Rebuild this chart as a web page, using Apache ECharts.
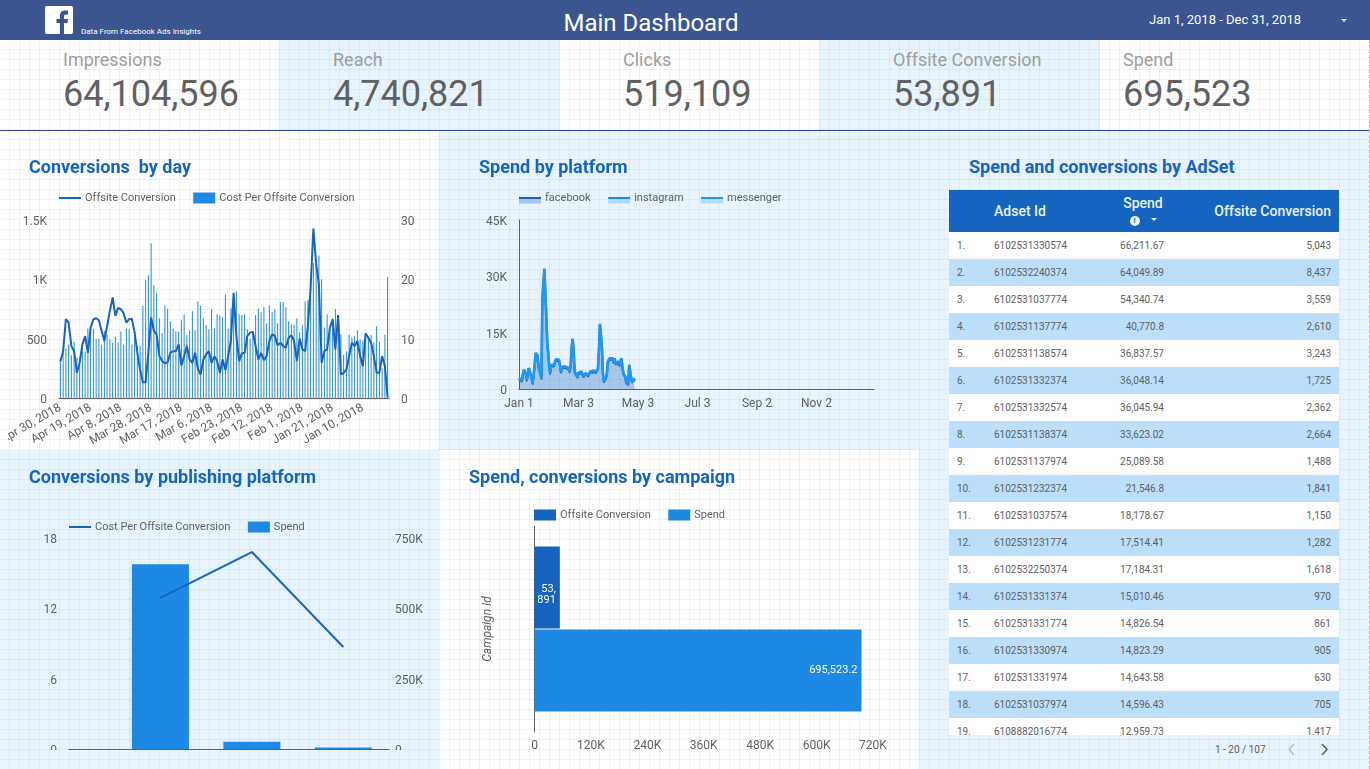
<!DOCTYPE html>
<html>
<head>
<meta charset="utf-8">
<title>Main Dashboard</title>
<script src="https://cdn.jsdelivr.net/npm/echarts@6/dist/echarts.min.js"></script>
<style>
	html, body { margin: 0; padding: 0; width: 1370px; height: 769px; overflow: hidden; background: #fff; font-family: Roboto, sans-serif; }
	.abs, .panel, .chart, .kpi, #table-wrap { position: absolute; }
	.panel { background: #e8f4fd; }
	#paper {
		position: absolute; left: 0; top: 0; width: 1370px; height: 769px;
		background-image:
			linear-gradient(to right, transparent 9px, rgba(70, 80, 90, .07) 9px, rgba(70, 80, 90, .07) 10px, transparent 10px),
			linear-gradient(to bottom, transparent 9px, rgba(70, 80, 90, .07) 9px, rgba(70, 80, 90, .07) 10px, transparent 10px);
		background-size: 10px 10px;
	}
	#header { position: absolute; left: 0; top: 0; width: 1370px; height: 40px; background: #3a5590; color: #fff; }
	#header div { position: absolute; white-space: nowrap; }
	#rule { position: absolute; left: 0; top: 130px; width: 1370px; height: 1px; background: #2f49a8; }
	#edge { position: absolute; left: 1369px; top: 40px; height: 729px; border-left: 1px dashed #b5b5b5; }
	.kpi { top: 48px; white-space: nowrap; }
	.kpi .name { font-size: 18px; line-height: 24px; color: #9e9e9e; }
	.kpi .value { font-size: 36px; line-height: 44px; color: #616161; margin-top: 0; }
	#table-wrap { left: 949px; top: 190px; width: 390px; height: 545px; overflow: hidden; }
	table { border-collapse: collapse; width: 390px; table-layout: fixed; }
	th { height: 42px; padding: 0; background: #1565c0; color: #e8f4fd; font-size: 14px; font-weight: 500; }
	td { height: 27px; padding: 0; font-size: 10px; color: #616161; background: #fff; }
	tr:nth-child(odd) td { background: #bbdefb; }
	.num { padding-left: 8px; width: 37px; text-align: left; }
	.id { width: 112px; text-align: left; }
	.sp { width: 58px; text-align: right; }
	.oc { text-align: right; padding-right: 8px; }
	.spend-head { position: relative; left: 8px; text-align: center; line-height: 15px; }
	.info { display: inline-block; width: 10px; height: 10px; line-height: 10px; border-radius: 50%; background: #e8f4fd; color: #1565c0; font-size: 8px; font-weight: 700; text-align: center; }
	.caret { display: inline-block; width: 0; height: 0; border-left: 3px solid transparent; border-right: 3px solid transparent; border-top: 3px solid #e8f4fd; margin-left: 11px; vertical-align: 2px; }
</style>
</head>
<body>
<div class="panel" style="left:279px;top:40px;width:281px;height:90px"></div>
<div class="panel" style="left:819px;top:40px;width:281px;height:90px"></div>
<div class="panel" style="left:439px;top:131px;width:480px;height:319px"></div>
<div class="panel" style="left:919px;top:131px;width:451px;height:638px"></div>
<div class="panel" style="left:0;top:450px;width:439px;height:319px"></div>
<div id="paper"></div>
<div id="header">
	<svg class="abs" style="left:45px;top:6px" width="28" height="28" viewBox="0 0 28 28">
		<rect width="28" height="28" rx="2" fill="#fff"/>
		<path d="M19 28V17h3.4l.6-4h-4v-2.6c0-1.2.5-1.9 2-1.9h2.100V4.700C22.500 4.600 21.300 4.500 20 4.500c-3.100 0-5.100 1.900-5.100 5.300V13H11.500v4h3.400v11z" fill="#3a5590"/>
	</svg>
	<div style="left:81px;top:26px;font-size:8px;line-height:11px">Data From Facebook Ads Insights</div>
	<div style="left:351px;width:600px;top:8px;text-align:center;font-size:24px;line-height:30px">Main Dashboard</div>
	<div style="left:1149px;top:12px;font-size:13px;line-height:16px">Jan 1, 2018 - Dec 31, 2018</div>
	<div style="left:1341px;top:19px;width:0;height:0;border-left:3px solid transparent;border-right:3px solid transparent;border-top:3px solid #fff"></div>
</div>
<div id="kpis"></div>
<div id="rule"></div>
<div id="edge"></div>

<div class="chart" id="day" style="left:8px;top:130px;width:431px;height:320px"></div>
<div class="chart" id="platform" style="left:439px;top:130px;width:480px;height:320px"></div>
<div class="chart" id="publishing" style="left:0;top:450px;width:439px;height:300px"></div>
<div class="chart" id="campaign" style="left:439px;top:450px;width:480px;height:319px"></div>

<div class="chart" id="adset-title" style="left:969px;top:156px;font-size:18px;line-height:22px;font-weight:700;color:#1565c0;white-space:nowrap">Spend and conversions by AdSet</div>
<div id="table-wrap"></div>
<div class="abs" style="left:1215px;top:743px;font-size:10px;line-height:13px;color:#616161">1 - 20 / 107</div>
<svg class="abs" style="left:1287px;top:743px" width="8" height="13" viewBox="0 0 8 13"><path d="M7 1 2 6.500 7 12" fill="none" stroke="#bdbdbd" stroke-width="1.600"/></svg>
<svg class="abs" style="left:1321px;top:743px" width="8" height="13" viewBox="0 0 8 13"><path d="M1 1 6 6.500 1 12" fill="none" stroke="#616161" stroke-width="1.600"/></svg>

<script>
var FONT = 'Roboto', TXT = '#616161', AXIS = '#616161';
var DARK = '#1565c0', BLUE = '#1e88e5', SKY = '#2196f3';

var kpiNames = ['Impressions', 'Reach', 'Clicks', 'Offsite Conversion', 'Spend'];
var kpiValues = ['64,104,596', '4,740,821', '519,109', '53,891', '695,523'];
var kpiLeft = [63, 333, 623, 893, 1123];

// conversions by day, newest day first (Apr 30 -> Jan 1)
var dayConversions = [310, 395, 664, 635, 438, 395, 212, 297, 452, 522, 381, 593, 664, 672, 655, 565, 480, 607, 734, 847,
	692, 760, 748, 715, 635, 664, 667, 551, 381, 240, 133, 133, 381, 678, 565, 537, 353, 311, 291, 302,
	381, 395, 395, 452, 274, 353, 438, 325, 297, 381, 246, 198, 325, 367, 395, 297, 353, 311, 212, 325,
	235, 353, 480, 884, 523, 311, 376, 381, 523, 551, 557, 438, 325, 381, 319, 353, 480, 537, 523, 444,
	466, 438, 424, 508, 528, 480, 311, 500, 410, 395, 607, 932, 1427, 1130, 960, 297, 395, 410, 593, 664,
	410, 698, 198, 212, 240, 353, 466, 438, 480, 353, 268, 545, 508, 466, 353, 212, 212, 353, 268, 5];
var dayCost = [6.5, 7.6, 8.3, 9, 7.2, 9.5, 6.8, 5.9, 8.8, 7.9, 11.7, 12, 11.6, 10, 10, 9, 11.3, 10.7, 9.9, 9.3,
	10.3, 9.4, 11.2, 9, 11.7, 11.6, 9, 11.3, 8.8, 8.8, 15.5, 19.9, 20.7, 26.1, 19, 17.7, 13.4, 10.9, 15.6, 15.1,
	12.9, 11.7, 11.3, 11.2, 13.1, 14.1, 10.6, 11.4, 14.6, 11.4, 16.3, 15.5, 13.4, 12.3, 11.6, 15, 11.8, 14.1, 13.9, 13.6,
	17.5, 11.7, 15.1, 17.8, 18, 14.1, 14, 14.1, 11.6, 10, 11.3, 14, 15.1, 14.5, 15.3, 12.6, 15.6, 14.5, 15, 12.6,
	16.2, 16.2, 15.3, 12.9, 12.4, 12.4, 13.4, 11.1, 12.3, 16.3, 16.5, 18.5, 22.8, 22.8, 24, 20, 11.9, 14.1, 11.6, 13.4,
	15, 14, 10.7, 7.3, 7.9, 10.7, 10.2, 10.4, 11.4, 9.9, 9.7, 10.9, 10.2, 10.6, 9.4, 12.1, 9.5, 5, 10.6, 20.4];

// spend by platform, Jan 1 onwards
var spendFacebook = [2480, 2230, 2050, 1880, 3380, 4700, 4880, 3820, 2050, 3380, 5150, 5150, 5150, 2490, 1160, 1160, 5590, 9130, 8960, 8430,
	5590, 5590, 5150, 2490, 23200, 23500, 30900, 30900, 18500, 11600, 9000, 5500, 3800, 5950, 5950, 6200, 5950, 6830, 7450, 7720,
	7450, 7270, 5950, 4200, 4800, 5500, 5320, 5320, 5500, 5060, 5320, 5060, 4200, 5950, 10400, 12800, 9950, 4200, 3900, 3750,
	2870, 3900, 3750, 4200, 4200, 3900, 3030, 2870, 3750, 4000, 3750, 3300, 3750, 4200, 4380, 3750, 4470, 4470, 4200, 4200,
	4200, 5060, 9950, 16700, 16900, 10700, 3750, 1600, 1160, 1600, 3300, 6800, 7270, 7700, 7270, 7700, 7700, 6800, 7700, 6400,
	5950, 5950, 6830, 5950, 6400, 7700, 5500, 3750, 3750, 2870, 1160, 2870, 800, 6000, 5500, 2500, 1600, 2400, 2900, 2000];
var spendInstagram = [420, 410, 400, 390, 410, 420, 420, 410, 390, 410, 420, 430, 420, 400, 390, 380, 430, 440, 420, 410,
	420, 410, 410, 390, 900, 920, 1100, 1050, 700, 500, 430, 420, 400, 430, 440, 420, 430, 450, 450, 460,
	450, 440, 430, 400, 410, 420, 430, 420, 430, 420, 410, 420, 400, 430, 520, 560, 500, 400, 390, 400,
	380, 400, 390, 410, 400, 400, 390, 380, 400, 400, 390, 400, 400, 410, 410, 400, 420, 410, 400, 410,
	400, 420, 500, 620, 610, 520, 390, 350, 340, 360, 400, 450, 460, 470, 460, 470, 460, 450, 470, 440,
	430, 430, 450, 430, 440, 470, 420, 390, 400, 370, 340, 380, 320, 430, 420, 370, 350, 360, 380, 340];
var spendMessenger = [10, 10, 12, 10, 11, 12, 10, 9, 8, 10, 12, 11, 13, 9, 8, 8, 12, 14, 13, 12,
	11, 12, 10, 9, 20, 22, 25, 24, 16, 13, 11, 10, 9, 11, 12, 11, 12, 13, 14, 13,
	12, 12, 11, 10, 10, 11, 11, 10, 11, 10, 11, 10, 9, 11, 13, 15, 12, 10, 9, 9,
	8, 10, 9, 10, 9, 10, 9, 8, 9, 10, 9, 9, 10, 10, 11, 9, 11, 10, 10, 9,
	10, 11, 13, 17, 16, 13, 9, 7, 6, 7, 9, 12, 12, 13, 12, 13, 12, 11, 13, 11,
	10, 11, 12, 10, 11, 13, 10, 9, 9, 8, 6, 8, 5, 11, 10, 8, 7, 8, 8, 7];

// bars sit on the positions 0, 1, 2; the axis runs a little past them
var publishingPos = [0, 1, 2];
var publishingSpend = [657000, 26000, 5000];
var publishingCost = [12.9, 16.8, 8.7];

var campaignIds = ['6102531'];
var campaignConversion = [53891];
var campaignSpend = [695523.2];

var adsetRows = [
	['6102531330574', '66,211.67', '5,043'], ['6102532240374', '64,049.89', '8,437'],
	['6102531037774', '54,340.74', '3,559'], ['6102531137774', '40,770.8', '2,610'],
	['6102531138574', '36,837.57', '3,243'], ['6102531332374', '36,048.14', '1,725'],
	['6102531332574', '36,045.94', '2,362'], ['6102531138374', '33,623.02', '2,664'],
	['6102531137974', '25,089.58', '1,488'], ['6102531232374', '21,546.8', '1,841'],
	['6102531037574', '18,178.67', '1,150'], ['6102531231774', '17,514.41', '1,282'],
	['6102532250374', '17,184.31', '1,618'], ['6102531331374', '15,010.46', '970'],
	['6102531331774', '14,826.54', '861'], ['6102531330974', '14,823.29', '905'],
	['6102531331974', '14,643.58', '630'], ['6102531037974', '14,596.43', '705'],
	['6108882016774', '12,959.73', '1,417']
];

var MONTHS = ['Jan', 'Feb', 'Mar', 'Apr', 'May', 'Jun', 'Jul', 'Aug', 'Sep', 'Oct', 'Nov', 'Dec'];
var dayLabels = [], yearLabels = [];
for (var i = 0; i < 120; i++) {
	var d = new Date(2018, 3, 30 - i);
	dayLabels.push(MONTHS[d.getMonth()] + ' ' + d.getDate() + ', 2018');
}
for (var j = 0; j < 365; j++) {
	var e = new Date(2018, 0, 1 + j);
	yearLabels.push(MONTHS[e.getMonth()] + ' ' + e.getDate());
}

function kFormat(v) {
	return v >= 1000 ? (v / 1000) + 'K' : '' + v;
}
function titleOf(text, left, top) {
	return { text: text, left: left, top: top, padding: 0, textStyle: { fontFamily: FONT, fontSize: 18, fontWeight: 700, color: DARK } };
}
function legendOf(left, top, gap, data) {
	return {
		left: left, top: top, padding: 0, itemWidth: 22, itemHeight: 11, itemGap: gap, data: data,
		textStyle: { fontFamily: FONT, fontSize: 11, color: TXT, padding: [0, 0, 0, -1] }
	};
}
function hardStops(stops) {
	return { type: 'linear', x: 0, y: 0, x2: 0, y2: 1, colorStops: stops };
}
// legend swatches: thin line, or line with the area's pale fill under it
function lineKey(name, color) {
	return {
		name: name, icon: 'rect', itemStyle: {
			color: hardStops([
				{ offset: 0, color: 'transparent' }, { offset: 0.41, color: 'transparent' },
				{ offset: 0.41, color: color }, { offset: 0.59, color: color },
				{ offset: 0.59, color: 'transparent' }, { offset: 1, color: 'transparent' }
			])
		}
	};
}
function areaKey(name, color, pale) {
	return {
		name: name, icon: 'rect', itemStyle: {
			color: hardStops([
				{ offset: 0, color: 'transparent' }, { offset: 0.41, color: 'transparent' },
				{ offset: 0.41, color: color }, { offset: 0.6, color: color },
				{ offset: 0.6, color: pale }, { offset: 1, color: pale }
			])
		}
	};
}
function rectKey(name) {
	return { name: name, icon: 'rect' };
}
function labelOf(margin) {
	return { fontFamily: FONT, fontSize: 12, color: TXT, margin: margin };
}
// the reference's value labels sit a touch below their tick
function yLabelOf(margin) {
	return Object.assign(labelOf(margin), { verticalAlign: 'top', lineHeight: 4 });
}
var axisStroke = { show: true, lineStyle: { color: AXIS, width: 1 } };

var kpiHtml = '';
kpiNames.forEach(function (name, n) {
	kpiHtml += '<div class="kpi" style="left:' + kpiLeft[n] + 'px"><div class="name">' + name + '</div><div class="value">' + kpiValues[n] + '</div></div>';
});
document.getElementById('kpis').innerHTML = kpiHtml;

var html = '<table><tr><th class="num"></th><th class="id">Adset Id</th>' +
	'<th class="sp"><div class="spend-head">Spend<br><span class="info">!</span><span class="caret"></span></div></th>' +
	'<th class="oc">Offsite Conversion</th></tr>';
adsetRows.forEach(function (r, n) {
	html += '<tr><td class="num">' + (n + 1) + '.</td><td class="id">' + r[0] + '</td><td class="sp">' + r[1] + '</td><td class="oc">' + r[2] + '</td></tr>';
});
document.getElementById('table-wrap').innerHTML = html + '</table>';

var dayChart = echarts.init(document.getElementById('day'));
dayChart.setOption({
	animation: false,
	title: titleOf('Conversions  by day', 21, 29),
	legend: legendOf(51, 62.500, 17.500, [lineKey('Offsite Conversion', DARK), rectKey('Cost Per Offsite Conversion')]),
	grid: { left: 51, right: 50, top: 90, bottom: 52, outerBoundsMode: 'none' },
	xAxis: {
		type: 'category', data: dayLabels,
		axisLine: axisStroke, axisTick: { show: false },
		axisLabel: Object.assign(labelOf(9), { rotate: 30, interval: 10 })
	},
	yAxis: [
		{ type: 'value', min: 0, max: 1500, interval: 500, splitLine: { show: false }, axisLabel: Object.assign(yLabelOf(12), { formatter: kFormat }) },
		{ type: 'value', min: 0, max: 30, interval: 10, splitLine: { show: false }, axisLabel: yLabelOf(12) }
	],
	series: [
		{ name: 'Offsite Conversion', type: 'line', data: dayConversions, symbol: 'none', z: 3, lineStyle: { color: DARK, width: 2 }, itemStyle: { color: DARK } },
		{ name: 'Cost Per Offsite Conversion', type: 'bar', yAxisIndex: 1, data: dayCost, barWidth: 1, itemStyle: { color: BLUE } }
	]
});

function areaSeries(name, values, color, width) {
	return {
		name: name, type: 'line', stack: 'spend', data: values, symbol: 'none',
		lineStyle: { color: color, width: width }, itemStyle: { color: color },
		areaStyle: { color: color, opacity: 0.3 }
	};
}
var platformChart = echarts.init(document.getElementById('platform'));
platformChart.setOption({
	animation: false,
	title: titleOf('Spend by platform', 40, 29),
	legend: legendOf(80, 62.500, 17.500, [areaKey('facebook', DARK, '#a9c6e9'), areaKey('instagram', BLUE, '#b1d8f8'), areaKey('messenger', SKY, '#b5dcfb')]),
	grid: { left: 80, right: 45, top: 90, bottom: 61, outerBoundsMode: 'none' },
	xAxis: {
		type: 'category', data: yearLabels, boundaryGap: false,
		axisLine: axisStroke, axisTick: { show: false },
		axisLabel: Object.assign(labelOf(9), { interval: 60 })
	},
	yAxis: {
		type: 'value', min: 0, max: 45000, interval: 15000, splitLine: { show: false },
		axisLine: axisStroke, axisTick: { show: false },
		axisLabel: Object.assign(yLabelOf(12), { formatter: kFormat })
	},
	series: [
		areaSeries('facebook', spendFacebook, DARK, 1.5),
		areaSeries('instagram', spendInstagram, BLUE, 2.5),
		areaSeries('messenger', spendMessenger, SKY, 2.5)
	]
});

var publishingChart = echarts.init(document.getElementById('publishing'));
publishingChart.setOption({
	animation: false,
	title: titleOf('Conversions by publishing platform', 29, 19),
	legend: legendOf(69, 71.500, 17.500, [lineKey('Cost Per Offsite Conversion', DARK), rectKey('Spend')]),
	grid: { left: 69, right: 50, top: 88, bottom: 1, outerBoundsMode: 'none' },
	xAxis: {
		type: 'value', min: -1, max: 2.5, splitLine: { show: false },
		axisLine: axisStroke, axisTick: { show: false }, axisLabel: { show: false }
	},
	yAxis: [
		{ type: 'value', min: 0, max: 18, interval: 6, splitLine: { show: false }, axisLine: { show: false }, axisTick: { show: false }, axisLabel: yLabelOf(12) },
		{ type: 'value', min: 0, max: 750000, interval: 250000, splitLine: { show: false }, axisLine: { show: false }, axisTick: { show: false }, axisLabel: Object.assign(yLabelOf(6), { formatter: kFormat }) }
	],
	series: [
		{
			name: 'Cost Per Offsite Conversion', type: 'line', z: 3, symbol: 'none',
			data: publishingPos.map(function (p, n) { return [p, publishingCost[n]]; }),
			lineStyle: { color: DARK, width: 2 }, itemStyle: { color: DARK }
		},
		{
			name: 'Spend', type: 'bar', yAxisIndex: 1, barWidth: 57,
			data: publishingPos.map(function (p, n) { return [p, publishingSpend[n]]; }),
			itemStyle: { color: BLUE }
		}
	]
});

var campaignChart = echarts.init(document.getElementById('campaign'));
campaignChart.setOption({
	animation: false,
	title: titleOf('Spend, conversions by campaign', 30, 19),
	legend: legendOf(95, 59.500, 17.500, [rectKey('Offsite Conversion'), rectKey('Spend')]),
	grid: { left: 95.500, right: 46, top: 76, bottom: 37, outerBoundsMode: 'none' },
	xAxis: {
		type: 'value', min: 0, max: 720000, interval: 120000, splitLine: { show: false },
		axisLine: { show: false }, axisTick: { show: false },
		axisLabel: Object.assign(labelOf(8), { formatter: kFormat })
	},
	yAxis: {
		type: 'category', data: campaignIds, inverse: true,
		name: 'Campaign Id', nameLocation: 'middle', nameGap: 41, nameRotate: 90,
		nameTextStyle: { fontFamily: FONT, fontSize: 12, fontStyle: 'italic', color: TXT },
		axisLine: axisStroke, axisTick: { show: false }, axisLabel: { show: false }
	},
	series: [
		{
			name: 'Offsite Conversion', type: 'bar', data: campaignConversion, barWidth: 82, barGap: '1%',
			itemStyle: { color: DARK },
			label: {
				show: true, position: 'insideRight', offset: [0, 7], color: '#fff', fontFamily: FONT, fontSize: 11, align: 'right', distance: 4,
				formatter: function (p) { return p.value.toLocaleString('en-US').replace(',', ',\n'); }
			}
		},
		{
			name: 'Spend', type: 'bar', data: campaignSpend, barWidth: 82,
			itemStyle: { color: BLUE },
			label: {
				show: true, position: 'insideRight', color: '#fff', fontFamily: FONT, fontSize: 11, distance: 4,
				formatter: function (p) { return p.value.toLocaleString('en-US'); }
			}
		}
	]
});

window.onresize = function () {
	dayChart.resize(); platformChart.resize(); publishingChart.resize(); campaignChart.resize();
};
</script>
</body>
</html>
